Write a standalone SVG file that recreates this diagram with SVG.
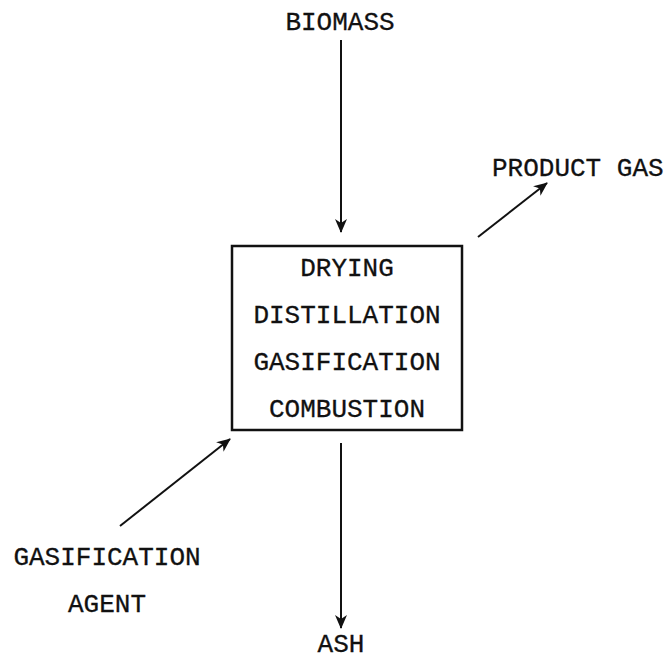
<svg xmlns="http://www.w3.org/2000/svg" width="669" height="663" viewBox="0 0 669 663">
<style>
text{font-family:"Liberation Mono","Courier New",monospace;font-size:26px;fill:#111;stroke:#111;stroke-width:0.3px}
.c{text-anchor:middle}
.ln{stroke:#111;stroke-width:2;fill:none}
</style>
<defs>
<marker id="ah" viewBox="0 0 14 12" refX="13" refY="6" markerWidth="14" markerHeight="12" markerUnits="userSpaceOnUse" orient="auto">
<path d="M0,0 L14,6 L0,12 L4,6 Z" fill="#111"/>
</marker>
</defs>
<rect width="669" height="663" fill="#fff"/>
<g id="reactor">
<rect x="232" y="246" width="230" height="184" fill="none" stroke="#111" stroke-width="2.5"/>
<text class="c" x="347" y="276">DRYING</text>
<text class="c" x="347" y="323">DISTILLATION</text>
<text class="c" x="347" y="370">GASIFICATION</text>
<text class="c" x="347" y="417">COMBUSTION</text>
</g>
<g id="biomass"><text class="c" x="340" y="30">BIOMASS</text></g>
<g id="product-gas"><text x="492" y="176">PRODUCT GAS</text></g>
<g id="gasification-agent">
<text class="c" x="107" y="565">GASIFICATION</text>
<text class="c" x="107" y="612">AGENT</text>
</g>
<g id="ash"><text class="c" x="341" y="652">ASH</text></g>
<g id="connectors">
<line class="ln" x1="341" y1="40" x2="341" y2="232" marker-end="url(#ah)"/>
<line class="ln" x1="341" y1="443" x2="341" y2="628" marker-end="url(#ah)"/>
<line class="ln" x1="478" y1="237" x2="547" y2="183" marker-end="url(#ah)"/>
<line class="ln" x1="120" y1="526" x2="230" y2="439" marker-end="url(#ah)"/>
</g>
</svg>
